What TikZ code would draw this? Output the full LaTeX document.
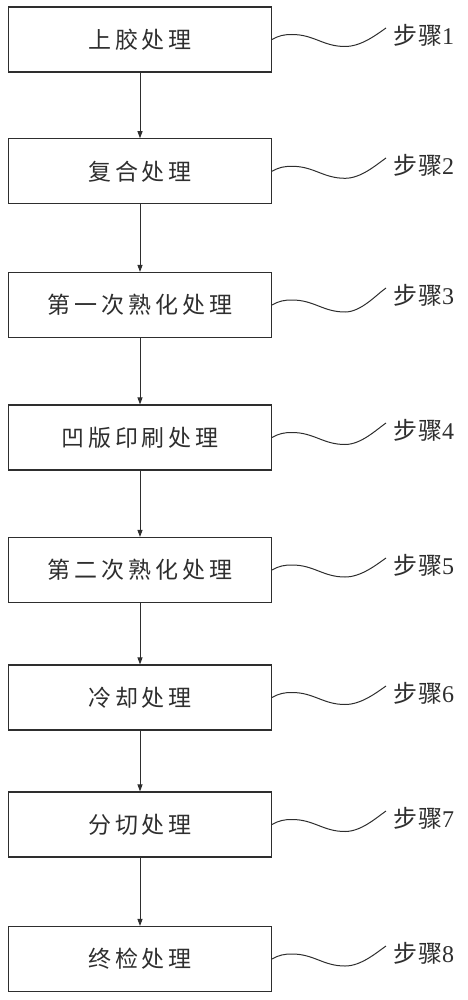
\documentclass[tikz,border=0pt]{standalone}
\usepackage{fontspec}
\setmainfont{Liberation Serif}
\newfontfamily\cjk[LetterSpace=17]{Noto Sans CJK SC}
\newfontfamily\cjkl[LetterSpace=4]{Noto Sans CJK SC}
\usetikzlibrary{arrows.meta}
\definecolor{ink}{gray}{0.18}
\tikzset{
  procbox/.style={draw=ink, line width=1.1pt, minimum width=263pt, minimum height=65pt,
    inner sep=0pt, font=\cjk\fontsize{23}{23}\selectfont, text=ink},
  steplabel/.style={anchor=west, inner sep=0pt, font=\fontsize{24}{24}\selectfont, text=ink},
  flow/.style={draw=ink, line width=0.9pt, -{Triangle[length=7pt,width=5pt]}},
  wave/.style={draw=ink, line width=1pt}
}
\begin{document}
\begin{tikzpicture}[x=1pt,y=1pt]
\useasboundingbox (0,0) rectangle (467,-1000);
\foreach \i/\cy/\ly/\txt in {1/39.5/35/上胶处理, 2/171.3/165/复合处理, 3/305/295/第一次熟化处理,
  4/437.5/430/凹版印刷处理, 5/570/565/第二次熟化处理, 6/697.5/693/冷却处理,
  7/824.5/818/分切处理, 8/959/953/终检处理}{
  \node[procbox] (b\i) at (140,-\cy) {\txt};
  \node[steplabel] (l\i) at (393,-\ly) {{\cjkl 步骤}\i};
  \coordinate (h\i) at ([shift={(20pt,5pt)}]b\i.east);
  \coordinate (t\i) at ([shift={(73pt,-7pt)}]b\i.east);
  \draw[wave] (b\i.east) .. controls +(7pt,4pt) and +(-8pt,0pt) .. (h\i)
     .. controls +(22pt,0pt) and +(-22pt,0pt) .. (t\i)
     .. controls +(16pt,0pt) and +(-10pt,-7pt) .. ([shift={(-7pt,7pt)}]l\i.west);
}
\foreach \i/\j in {1/2,2/3,3/4,4/5,5/6,6/7,7/8}{
  \draw[flow] (b\i.south) -- (b\j.north);
}
\end{tikzpicture}
\end{document}
